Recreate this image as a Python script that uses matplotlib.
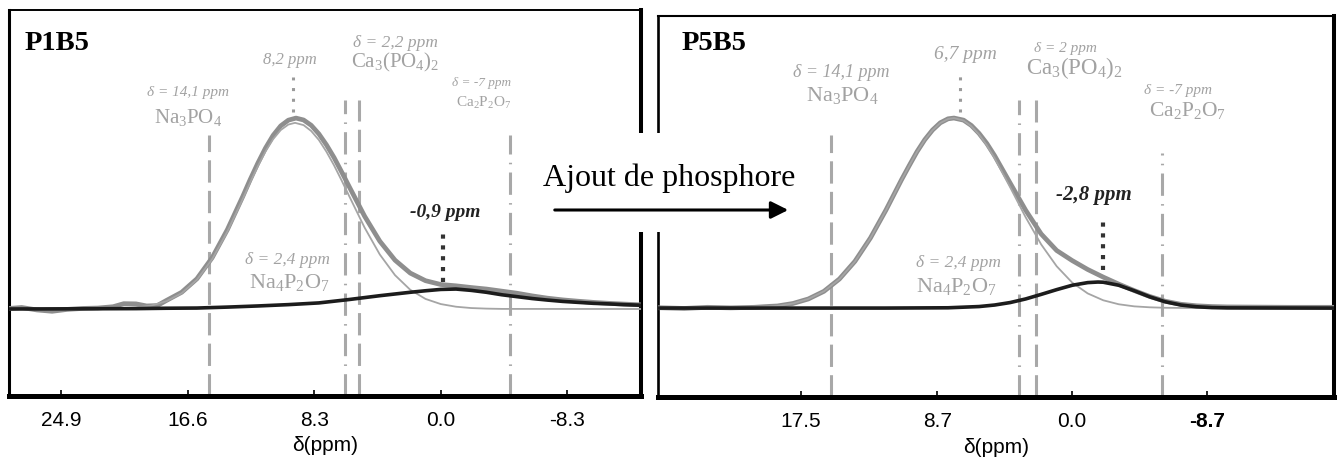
import matplotlib.pyplot as plt
from matplotlib.patches import Rectangle, FancyArrowPatch

plt.rcParams['mathtext.fontset'] = 'custom'
plt.rcParams['mathtext.rm'] = 'Liberation Serif'
plt.rcParams['mathtext.it'] = 'Liberation Serif:italic'
plt.rcParams['mathtext.bf'] = 'Liberation Serif:bold'

# ---- données (ppm, intensité relative) ----
ticks_p1 = [24.9, 16.6, 8.3, 0.0, -8.3]
ticks_p5 = [17.5, 8.7, 0.0, -8.7]

# P1B5 : spectre expérimental, composante principale, composante large
p1_exp_ppm = [28.3, 27.5, 26.5, 25.5, 24.5, 23.5, 22.5, 21.5, 20.8, 20.0, 19.3, 18.6, 18.0,
              17.0, 16.0, 15.0, 14.0, 13.0, 12.5, 12.0, 11.5, 11.0, 10.5, 10.0, 9.5, 9.0,
              8.5, 8.0, 7.5, 7.0, 6.5, 6.0, 5.0, 4.0, 3.0, 2.0, 1.0, 0.0, -1.0, -2.0, -3.0,
              -4.0, -5.0, -6.0, -7.0, -8.0, -9.0, -10.0, -11.0, -12.0, -13.1]
p1_exp_int = [0.3, 0.8, -0.5, -1.2, -0.2, 0.3, 0.5, 1.2, 2.8, 2.7, 1.6, 1.8, 4.5,
              8.8, 15.9, 27.0, 41.8, 59.1, 68.2, 76.8, 84.7, 91.4, 96.4, 99.4, 100.5, 99.5,
              96.7, 92.2, 86.4, 79.7, 72.1, 64.3, 48.9, 35.7, 25.7, 18.9, 14.9, 12.9, 12.2,
              11.3, 10.5, 9.4, 8.3, 6.9, 5.7, 4.8, 4.1, 3.5, 3.0, 2.6, 2.2]

p1_fit_ppm = [28.3, 21.0, 20.0, 19.0, 18.0, 17.0, 16.0, 15.0, 14.0, 13.0, 12.5, 12.0, 11.5,
              11.0, 10.5, 10.0, 9.56, 9.0, 8.5, 8.0, 7.5, 7.0, 6.5, 6.0, 5.0, 4.0, 3.0,
              2.0, 1.0, 0.0, -1.0, -2.0, -3.0, -4.0, -13.1]
p1_fit_int = [0.0, 0.3, 0.8, 1.8, 4.1, 8.3, 15.4, 26.2, 40.8, 57.8, 66.7, 75.2, 82.9,
              89.4, 94.2, 97.1, 98.0, 96.8, 93.7, 89.0, 82.8, 75.6, 67.6, 59.3, 42.9, 28.7, 17.8,
              10.1, 5.3, 2.6, 1.2, 0.5, 0.2, 0.05, 0.0]

p1_br_ppm = [28.3, 24.0, 20.0, 18.0, 16.0, 14.0, 12.0, 10.0, 8.0, 7.0, 6.0, 5.0, 4.0, 3.0,
             2.0, 1.0, 0.0, -1.0, -2.0, -3.0, -4.0, -5.0, -6.0, -7.0, -8.0, -9.0, -10.0,
             -11.0, -12.0, -13.1]
p1_br_int = [0.0, 0.1, 0.2, 0.4, 0.5, 1.0, 1.6, 2.3, 3.2, 4.1, 5.0, 6.0, 7.0, 7.9,
             8.8, 9.6, 10.3, 10.5, 9.8, 8.8, 7.5, 6.5, 5.5, 4.7, 4.0, 3.5, 3.0,
             2.7, 2.3, 2.0]

# P5B5
p5_exp_ppm = [26.7, 25.0, 23.5, 22.0, 20.5, 19.5, 19.0, 18.0, 17.0, 16.0, 15.0, 14.0, 13.0,
              12.0, 11.0, 10.5, 10.0, 9.5, 9.0, 8.5, 8.0, 7.62, 7.0, 6.5, 6.0, 5.5, 5.0,
              4.0, 3.0, 2.0, 1.0, 0.0, -1.0, -2.0, -3.0, -4.0, -5.0, -6.0, -7.0, -8.0,
              -9.0, -10.0, -12.0, -14.0, -16.87]
p5_exp_int = [0.2, -0.2, 0.4, 0.1, 0.4, 0.9, 1.1, 2.4, 4.8, 8.8, 15.3, 24.6, 36.9,
              51.6, 67.5, 75.0, 82.3, 88.6, 93.7, 97.5, 99.6, 100.0, 98.9, 96.1, 91.9, 86.6, 80.2,
              65.8, 51.5, 39.0, 30.3, 25.0, 20.3, 16.3, 12.6, 9.2, 6.1, 3.6, 2.0, 1.2,
              0.8, 0.6, 0.5, 0.4, 0.4]

p5_fit_ppm = [26.7, 22.0, 20.0, 19.0, 18.0, 17.0, 16.0, 15.0, 14.0, 13.0, 12.0, 11.0, 10.5,
              10.0, 9.5, 9.0, 8.5, 8.0, 7.62, 7.0, 6.5, 6.0, 5.5, 5.0, 4.0, 3.0, 2.0,
              1.0, 0.0, -1.0, -2.0, -3.0, -4.0, -5.0, -6.0, -8.0, -16.87]
p5_fit_int = [0.0, 0.1, 0.5, 1.1, 2.4, 4.8, 8.8, 15.2, 24.5, 36.8, 51.5, 67.4, 74.9,
              82.2, 88.5, 93.6, 97.4, 99.5, 100.0, 98.7, 95.7, 91.3, 85.6, 78.9, 63.6, 47.8, 33.5,
              22.0, 13.4, 7.7, 4.1, 2.0, 0.9, 0.4, 0.15, 0.0, 0.0]

p5_br_ppm = [26.7, 12.0, 8.0, 6.0, 5.0, 4.0, 3.0, 2.0, 1.0, 0.0, -1.0, -1.66, -2.0, -3.0,
             -4.0, -5.0, -6.0, -7.0, -8.0, -9.0, -10.0, -16.87]
p5_br_int = [0.0, 0.0, 0.15, 0.8, 1.6, 2.9, 4.8, 7.2, 9.7, 12.0, 13.4, 13.7, 13.6, 12.0,
             9.1, 5.9, 3.3, 1.6, 0.7, 0.25, 0.1, 0.0]

# raies de référence (ppm sur l'axe) et hauteur de départ des tirets
p1_ref_ppm = [15.2, 6.28, 5.36, -4.55]
p1_ref_top = [91.6, 110.0, 110.0, 91.6]
p5_ref_ppm = [15.54, 3.42, 2.33, -5.78]
p5_ref_top = [91.0, 109.5, 109.5, 81.6]

# repères pointillés : (ppm, bas, haut)
p1_peak_mark = (9.69, 103.7, 122.0)
p1_broad_mark = (-0.15, 14.2, 40.0)
p5_peak_mark = (7.23, 103.2, 122.6)
p5_broad_mark = (-1.98, 20.0, 47.9)

GRIS = '#a2a2a2'
W, H = 1339, 457
fig = plt.figure(figsize=(W / 100, H / 100), dpi=100)


def axes_px(x0, y0, x1, y1):
    return fig.add_axes([x0 / W, 1 - y1 / H, (x1 - x0) / W, (y1 - y0) / H])


ax1 = axes_px(9, 10, 641, 396)
ax2 = axes_px(658, 16, 1334, 397)

tiret = (0, (7.3, 2.7))
tiret_point = (0, (7.3, 2.7, 0.5, 2.7))
styles_ref = [tiret, tiret_point, tiret, tiret_point]


def trace(ax, exp_p, exp_i, fit_p, fit_i, br_p, br_i, refs, tops, mk1, mk2, ymin):
    ax.plot(exp_p, exp_i, color='#8e8e8e', lw=3.4, solid_capstyle='round', zorder=3)
    ax.plot(fit_p, fit_i, color='#a5a5a5', lw=1.3, zorder=4)
    ax.plot(br_p, br_i, color='#1c1c1c', lw=2.6, zorder=5)
    for x, top, ls in zip(refs, tops, styles_ref):
        ax.vlines(x, ymin, top, colors='#a8a8a8', linestyles=[ls], lw=2.2, zorder=2)
    ax.vlines(mk1[0], mk1[1], mk1[2], colors='#9a9a9a', linestyles=[(0, (1, 2.5))], lw=2.2)
    ax.vlines(mk2[0], mk2[1], mk2[2], colors='#333333', linestyles=[(0, (1, 1.6))], lw=3.0)


def gris(ax, x, y, s, size, italic=True):
    ax.text(x, y, s, ha='center', va='center', fontsize=size, color=GRIS,
            family='Liberation Serif', style='italic' if italic else 'normal')


# ---- P1B5 ----
ax1.set_xlim(28.33, -13.14)
ax1.set_ylim(-45.8, 157.4)
trace(ax1, p1_exp_ppm, p1_exp_int, p1_fit_ppm, p1_fit_int, p1_br_ppm, p1_br_int,
      p1_ref_ppm, p1_ref_top, p1_peak_mark, p1_broad_mark, -45.8)
gris(ax1, 9.89, 131, '8,2 ppm', 12)
gris(ax1, 16.58, 114.2, 'δ = 14,1 ppm', 11)
gris(ax1, 16.58, 101, 'Na$_3$PO$_4$', 15, italic=False)
gris(ax1, 3.0, 140, 'δ = 2,2 ppm', 12.5)
gris(ax1, 3.0, 130, 'Ca$_3$(PO$_4$)$_2$', 15, italic=False)
gris(ax1, -2.71, 118.9, 'δ = -7 ppm', 9.5)
gris(ax1, -2.84, 108.4, 'Ca$_2$P$_2$O$_7$', 11, italic=False)
gris(ax1, 10.09, 25.8, 'δ = 2,4 ppm', 12.5)
gris(ax1, 9.95, 13.7, 'Na$_4$P$_2$O$_7$', 16, italic=False)
ax1.text(-0.28, 51, '-0,9 ppm', ha='center', va='center', fontsize=14, color='#222222',
         family='Liberation Serif', style='italic', weight='bold')
ax1.text(0.0253, 0.896, 'P1B5', transform=ax1.transAxes, fontsize=20.5, weight='bold',
         family='Liberation Serif', va='baseline')
ax1.set_xticks(ticks_p1)
ax1.set_xticklabels([f'{t:.1f}' for t in ticks_p1])
ax1.xaxis.set_label_coords(0.487, -0.104)

# ---- P5B5 ----
ax2.set_xlim(26.69, -16.87)
ax2.set_ylim(-46.8, 153.7)
trace(ax2, p5_exp_ppm, p5_exp_int, p5_fit_ppm, p5_fit_int, p5_br_ppm, p5_br_int,
      p5_ref_ppm, p5_ref_top, p5_peak_mark, p5_broad_mark, -46.8)
gris(ax2, 6.91, 133.2, '6,7 ppm', 14)
gris(ax2, 14.9, 124.2, 'δ = 14,1 ppm', 13)
gris(ax2, 14.83, 112.1, 'Na$_3$PO$_4$', 16, italic=False)
gris(ax2, 0.46, 136.8, 'δ = 2 ppm', 11)
gris(ax2, -0.12, 126.3, 'Ca$_3$(PO$_4$)$_2$', 16.5, italic=False)
gris(ax2, -6.82, 114.7, 'δ = -7 ppm', 11)
gris(ax2, -7.4, 104.2, 'Ca$_2$P$_2$O$_7$', 15.5, italic=False)
gris(ax2, 7.36, 23.7, 'δ = 2,4 ppm', 12.5)
gris(ax2, 7.49, 11.1, 'Na$_4$P$_2$O$_7$', 16, italic=False)
ax2.text(-1.4, 59.5, '-2,8 ppm', ha='center', va='center', fontsize=15, color='#222222',
         family='Liberation Serif', style='italic', weight='bold')
ax2.text(0.0355, 0.911, 'P5B5', transform=ax2.transAxes, fontsize=20.5, weight='bold',
         family='Liberation Serif', va='baseline')
ax2.set_xticks(ticks_p5)
ax2.set_xticklabels([f'{t:.1f}' for t in ticks_p5])
ax2.get_xticklabels()[-1].set_fontweight('bold')
ax2.xaxis.set_label_coords(0.488, -0.108)

for ax, spines in ((ax1, (1.4, 2.2, 2.9, 3.6)), (ax2, (1.5, 1.9, 2.9, 3.6))):
    for nom, lw in zip(('top', 'left', 'right', 'bottom'), spines):
        ax.spines[nom].set_linewidth(lw)
    ax.set_yticks([])
    ax.tick_params(axis='x', direction='in', length=4, width=1.2, pad=11)
    for lab in ax.get_xticklabels():
        lab.set_family('Liberation Sans')
        lab.set_fontsize(15)
    ax.set_xlabel('δ(ppm)', family='Liberation Sans', fontsize=15, va='top')

# encart "Ajout de phosphore"
fig.add_artist(Rectangle((530 / W, 1 - 232 / H), 270 / W, 99 / H, transform=fig.transFigure,
                         facecolor='white', edgecolor='none', zorder=5))
fig.text(669 / W, 1 - 186 / H, 'Ajout de phosphore', ha='center', va='baseline', fontsize=23,
         family='Liberation Serif', zorder=6)
fig.add_artist(FancyArrowPatch((552 / W, 1 - 210 / H), (791 / W, 1 - 210 / H),
                               transform=fig.transFigure, arrowstyle='-|>', mutation_scale=26,
                               lw=2.2, color='black', zorder=6))

fig.savefig('out.png', dpi=100)
